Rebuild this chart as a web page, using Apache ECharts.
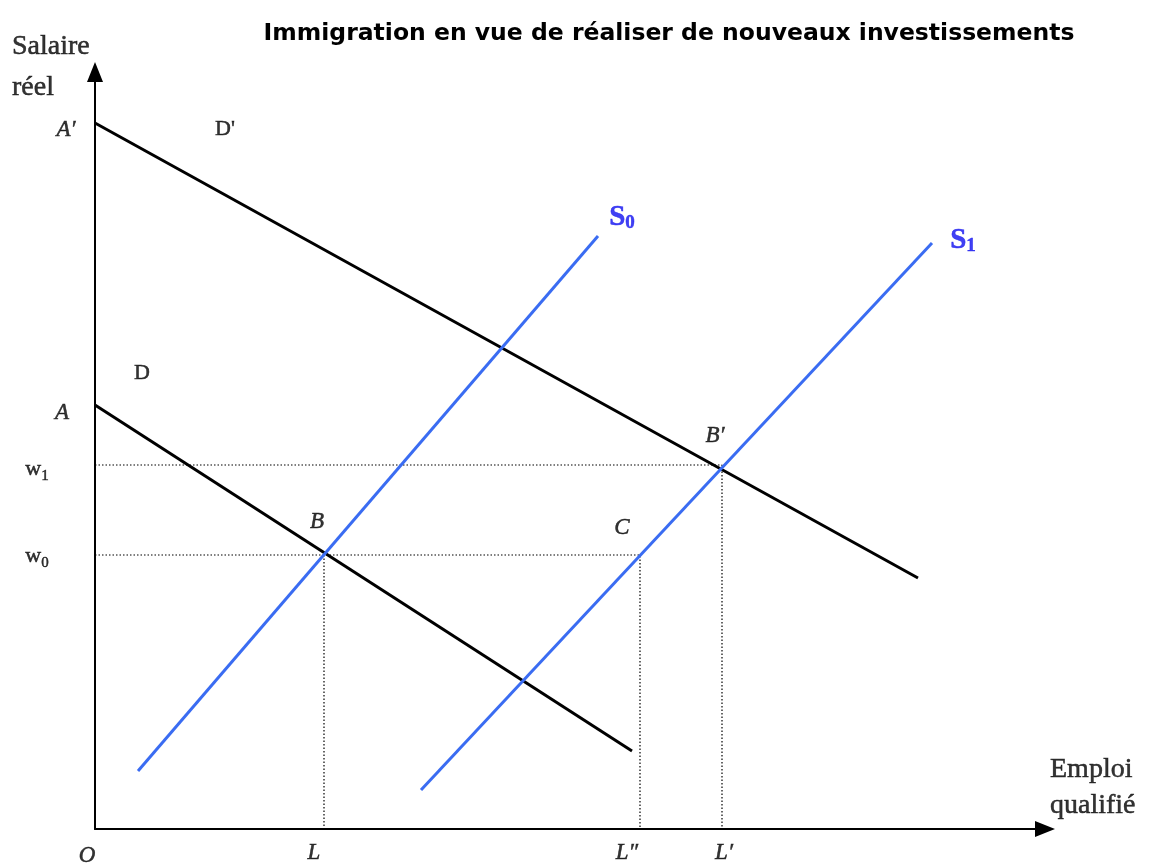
<!DOCTYPE html>
<html>
<head>
<meta charset="utf-8">
<script src="https://cdn.jsdelivr.net/npm/echarts@6/dist/echarts.min.js"></script>
<style>
  html, body { margin: 0; padding: 0; background: #fff; }
  #chart { width: 1151px; height: 864px; }
</style>
</head>
<body>
<div id="chart"></div>
<script>
// coordinates in diagram units (origin O at bottom left)
const demandD = [[0, 424], [537, 78]]
const demandD2 = [[0, 706], [823, 251]]
const supplyS0 = [[43, 58], [503, 593]]
const supplyS1 = [[326, 39], [837, 586]]

// equilibrium wages and employment levels
const wageLevels = { w0: 274, w1: 364 }
const employLevels = { L: 229, L2: 545, L1: 627 }

// text annotations [text, x, y, align]
const labels = [
  ['{r|Salaire}', -83, 782, 'left'],
  ['{r|réel}', -83, 741, 'left'],
  ['{i|A′}', -29, 699, 'center'],
  ['{n|D\'}', 130, 698, 'center'],
  ['{n|D}', 47, 454, 'center'],
  ['{i|A}', -33, 416, 'center'],
  ['{n|w}{sub|1}', -58, 358, 'center'],
  ['{n|w}{sub|0}', -58, 271, 'center'],
  ['{i|B}', 222, 307, 'center'],
  ['{i|B′}', 620, 393, 'center'],
  ['{i|C}', 527, 301, 'center'],
  ['{s|S}{ssub|0}', 527, 611, 'center'],
  ['{s|S}{ssub|1}', 868, 588, 'center'],
  ['{r|Emploi}', 955, 59, 'left'],
  ['{r|qualifié}', 955, 23, 'left'],
  ['{i|O}', -8, -27, 'center'],
  ['{i|L}', 219, -24, 'center'],
  ['{i|L″}', 532, -24, 'center'],
  ['{i|L′}', 629, -24, 'center']
]

const serif = '"Liberation Serif", "DejaVu Serif", serif'
// thin stroke of the same colour makes the serif text as dark as the original
const base = { fontFamily: serif, color: '#000', textBorderColor: '#000', textBorderWidth: 0.5 }
const blue = { color: '#1010f0', textBorderColor: '#1010f0' }
const richStyles = {
  r: { ...base, fontSize: 28 },
  n: { ...base, fontSize: 22, lineHeight: 26, verticalAlign: 'top' },
  i: { ...base, fontSize: 23, fontStyle: 'italic' },
  sub: { ...base, fontSize: 15, lineHeight: 16, verticalAlign: 'bottom', padding: [10, 0, 0, 0] },
  s: { ...base, ...blue, fontSize: 29, fontWeight: 'bold', lineHeight: 30, verticalAlign: 'top' },
  ssub: { ...base, ...blue, fontSize: 19, fontWeight: 'bold', lineHeight: 20, verticalAlign: 'bottom', padding: [12, 0, 0, 0] }
}

const chart = echarts.init(document.getElementById('chart'))

const solid = (data, color) => ({
  type: 'line',
  data: data,
  symbol: 'none',
  silent: true,
  animation: false,
  lineStyle: { color: color, width: 3 }
})

const dotted = data => ({
  type: 'line',
  data: data,
  symbol: 'none',
  silent: true,
  animation: false,
  lineStyle: { color: '#000', width: 1.2, type: [1.5, 2] }
})

const option = {
  animation: false,
  title: {
    text: 'Immigration en vue de réaliser de nouveaux investissements',
    left: 664,
    textAlign: 'center',
    top: 17,
    textStyle: { fontFamily: '"DejaVu Sans", Verdana, sans-serif', fontWeight: 'bold', fontSize: 23.5, color: '#000' }
  },
  grid: { left: 95, right: 106, top: 72, bottom: 35 },
  xAxis: {
    type: 'value',
    min: 0,
    max: 950,
    axisLine: { lineStyle: { color: '#000', width: 2 }, symbol: ['none', 'triangle'], symbolSize: [16, 20] },
    axisTick: { show: false },
    axisLabel: { show: false },
    splitLine: { show: false }
  },
  yAxis: {
    type: 'value',
    min: 0,
    max: 757,
    axisLine: { show: true, lineStyle: { color: '#000', width: 2 }, symbol: ['none', 'triangle'], symbolSize: [16, 20] },
    axisTick: { show: false },
    axisLabel: { show: false },
    splitLine: { show: false }
  },
  series: [
    dotted([[0, wageLevels.w1], [employLevels.L1, wageLevels.w1], [employLevels.L1, 0]]),
    dotted([[0, wageLevels.w0], [employLevels.L2, wageLevels.w0], [employLevels.L2, 0]]),
    dotted([[employLevels.L, wageLevels.w0], [employLevels.L, 0]]),
    solid(demandD2, '#000'),
    solid(demandD, '#000'),
    solid(supplyS0, '#3a6cf2'),
    solid(supplyS1, '#3a6cf2'),
    {
      type: 'scatter',
      clip: false,
      silent: true,
      symbolSize: 0,
      itemStyle: { color: '#000' },
      data: labels.map(l => ({
        value: [l[1], l[2]],
        label: {
          show: true,
          position: 'inside',
          align: l[3],
          color: '#000',
          fontFamily: serif,
          fontSize: 22,
          formatter: l[0],
          rich: richStyles
        }
      }))
    }
  ]
}

chart.setOption(option)
</script>
</body>
</html>
